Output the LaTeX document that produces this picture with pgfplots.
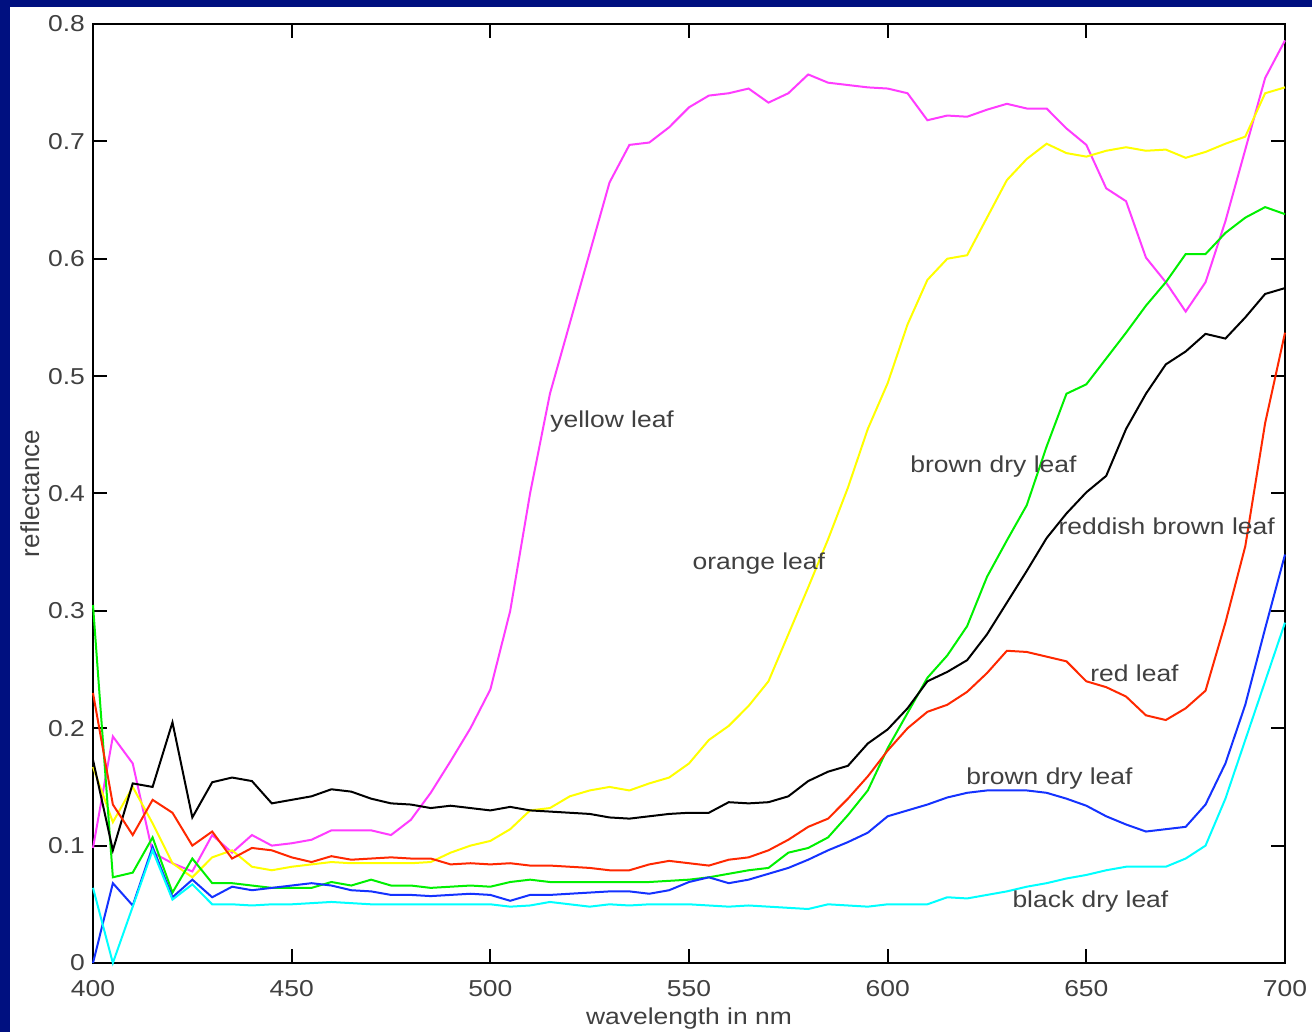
\documentclass[border=0pt]{standalone}
\usepackage{pgfplots}
\pgfplotsset{compat=1.18}
\usepackage{pgfplotstable}
\usepackage{fontspec}
\setmainfont{Liberation Sans}

\definecolor{navybg}{RGB}{0,16,128}
\definecolor{cmag}{RGB}{255,60,255}
\definecolor{cyel}{RGB}{255,255,0}
\definecolor{cgrn}{RGB}{0,240,0}
\definecolor{cred}{RGB}{255,40,0}
\definecolor{cblu}{RGB}{20,50,255}
\definecolor{ccyn}{RGB}{0,255,255}

% reflectance spectra, every 5 nm
\pgfplotstableread{
nm  mag   yel   grn   blk   red   blu   cyn
400 0.098 0.167 0.305 0.173 0.230 0.000 0.064
405 0.193 0.120 0.073 0.096 0.135 0.068 0.000
410 0.170 0.150 0.077 0.153 0.109 0.049 0.048
415 0.094 0.119 0.107 0.150 0.139 0.099 0.096
420 0.085 0.085 0.060 0.205 0.128 0.056 0.054
425 0.078 0.073 0.089 0.124 0.100 0.071 0.067
430 0.109 0.090 0.068 0.154 0.112 0.056 0.050
435 0.094 0.096 0.068 0.158 0.089 0.065 0.050
440 0.109 0.082 0.066 0.155 0.098 0.062 0.049
445 0.100 0.079 0.064 0.136 0.096 0.064 0.050
450 0.102 0.082 0.064 0.139 0.090 0.066 0.050
455 0.105 0.084 0.064 0.142 0.086 0.068 0.051
460 0.113 0.086 0.069 0.148 0.091 0.066 0.052
465 0.113 0.085 0.066 0.146 0.088 0.062 0.051
470 0.113 0.085 0.071 0.140 0.089 0.061 0.050
475 0.109 0.085 0.066 0.136 0.090 0.058 0.050
480 0.122 0.085 0.066 0.135 0.089 0.058 0.050
485 0.145 0.086 0.064 0.132 0.089 0.057 0.050
490 0.172 0.094 0.065 0.134 0.084 0.058 0.050
495 0.200 0.100 0.066 0.132 0.085 0.059 0.050
500 0.233 0.104 0.065 0.130 0.084 0.058 0.050
505 0.300 0.114 0.069 0.133 0.085 0.053 0.048
510 0.400 0.130 0.071 0.130 0.083 0.058 0.049
515 0.485 0.132 0.069 0.129 0.083 0.058 0.052
520 0.545 0.142 0.069 0.128 0.082 0.059 0.050
525 0.605 0.147 0.069 0.127 0.081 0.060 0.048
530 0.665 0.150 0.069 0.124 0.079 0.061 0.050
535 0.697 0.147 0.069 0.123 0.079 0.061 0.049
540 0.699 0.153 0.069 0.125 0.084 0.059 0.050
545 0.712 0.158 0.070 0.127 0.087 0.062 0.050
550 0.729 0.170 0.071 0.128 0.085 0.069 0.050
555 0.739 0.190 0.073 0.128 0.083 0.073 0.049
560 0.741 0.202 0.076 0.137 0.088 0.068 0.048
565 0.745 0.219 0.079 0.136 0.090 0.071 0.049
570 0.733 0.240 0.081 0.137 0.096 0.076 0.048
575 0.741 0.280 0.094 0.142 0.105 0.081 0.047
580 0.757 0.320 0.098 0.155 0.116 0.088 0.046
585 0.750 0.361 0.107 0.163 0.123 0.096 0.050
590 0.748 0.405 0.126 0.168 0.140 0.103 0.049
595 0.746 0.455 0.147 0.187 0.159 0.111 0.048
600 0.745 0.494 0.183 0.199 0.181 0.125 0.050
605 0.741 0.544 0.213 0.217 0.200 0.130 0.050
610 0.718 0.582 0.243 0.240 0.214 0.135 0.050
615 0.722 0.600 0.262 0.248 0.220 0.141 0.056
620 0.721 0.603 0.287 0.258 0.231 0.145 0.055
625 0.727 0.635 0.329 0.280 0.247 0.147 0.058
630 0.732 0.667 0.360 0.307 0.266 0.147 0.061
635 0.728 0.685 0.390 0.334 0.265 0.147 0.065
640 0.728 0.698 0.440 0.362 0.261 0.145 0.068
645 0.711 0.690 0.485 0.383 0.257 0.140 0.072
650 0.697 0.687 0.493 0.401 0.240 0.134 0.075
655 0.660 0.692 0.515 0.415 0.235 0.125 0.079
660 0.649 0.695 0.537 0.455 0.227 0.118 0.082
665 0.601 0.692 0.560 0.485 0.211 0.112 0.082
670 0.580 0.693 0.580 0.510 0.207 0.114 0.082
675 0.555 0.686 0.604 0.521 0.217 0.116 0.089
680 0.580 0.691 0.604 0.536 0.232 0.135 0.100
685 0.632 0.698 0.622 0.532 0.290 0.170 0.140
690 0.693 0.704 0.635 0.550 0.355 0.220 0.190
695 0.754 0.741 0.644 0.570 0.460 0.285 0.240
700 0.786 0.746 0.638 0.575 0.537 0.348 0.290
}\spectra

\begin{document}
\begin{tikzpicture}
\useasboundingbox (-46.5pt,-34.5pt) rectangle (609.5pt,481.5pt);
\fill[navybg] (-46.5pt,-34.5pt) rectangle (609.5pt,481.5pt);
\fill[white] (-41.5pt,-34.5pt) rectangle (609.5pt,478pt);
\begin{axis}[
    scale only axis,
    width=596pt, height=469.5pt,
    xmin=400, xmax=700,
    ymin=0, ymax=0.8,
    xtick={400,450,500,550,600,650,700},
    ytick={0,0.1,0.2,0.3,0.4,0.5,0.6,0.7,0.8},
    tick align=inside,
    major tick length=7pt,
    axis line style={black, line width=1.1pt},
    every tick/.style={black, line width=1pt},
    /pgf/number format/assume math mode=true,
    tick label style={font=\fontsize{11.5}{13}\selectfont, text=black!75, xscale=1.15},
    xticklabel style={yshift=-5pt},
    xlabel={wavelength in nm},
    xlabel style={font=\fontsize{11.5}{13}\selectfont, text=black!75, xscale=1.15,
        at={(axis description cs:0.5,0)}, anchor=base, yshift=-31pt},
    ylabel={reflectance},
    ylabel style={font=\fontsize{13}{15}\selectfont, text=black!75,
        at={(axis description cs:-0.053,0.5)}, anchor=center},
    every axis plot/.append style={line width=1pt},
    clip=false,
]
\addplot[cmag] table[x=nm, y=mag] {\spectra};
\addplot[cyel] table[x=nm, y=yel] {\spectra};
\addplot[cgrn] table[x=nm, y=grn] {\spectra};
\addplot[black] table[x=nm, y=blk] {\spectra};
\addplot[cred] table[x=nm, y=red] {\spectra};
\addplot[cblu] table[x=nm, y=blu] {\spectra};
\addplot[ccyn] table[x=nm, y=cyn] {\spectra};

\begin{scope}[every node/.style={anchor=west, inner sep=0pt, text=black!75,
    font=\fontsize{11.5}{13}\selectfont, xscale=1.15}]
\node at (axis cs:515.0,0.461) {yellow leaf};
\node at (axis cs:550.8,0.340) {orange leaf};
\node at (axis cs:605.6,0.423) {brown dry leaf};
\node at (axis cs:642.9,0.372) {reddish brown leaf};
\node at (axis cs:650.9,0.247) {red leaf};
\node at (axis cs:619.7,0.157) {brown dry leaf};
\node at (axis cs:631.3,0.052) {black dry leaf};
\end{scope}
\end{axis}
\end{tikzpicture}
\end{document}
